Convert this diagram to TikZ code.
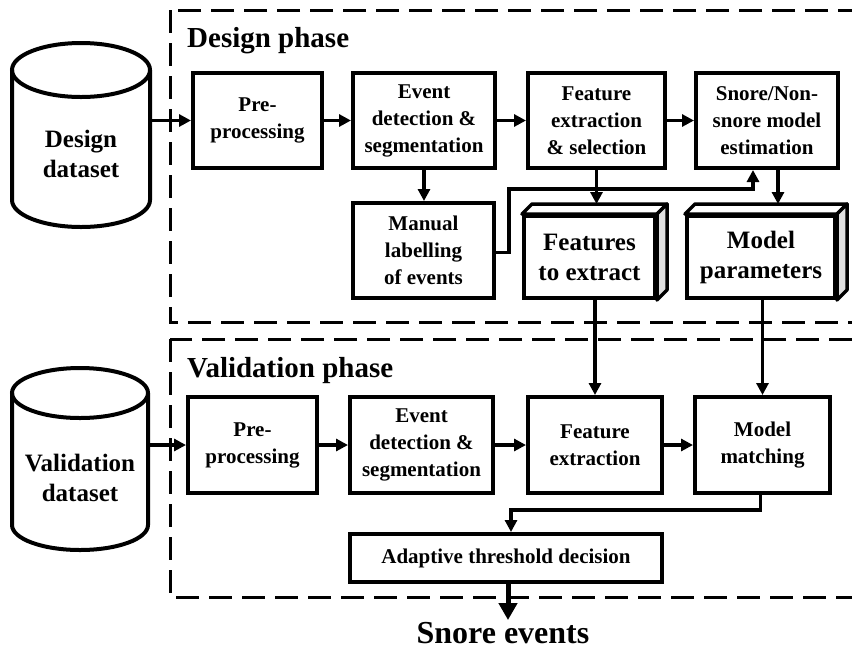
\documentclass[tikz,border=0pt]{standalone}
\usepackage{fontspec}
\setmainfont{Liberation Serif}
\usetikzlibrary{arrows.meta,calc}
\tikzset{
  proc/.style={draw, line width=4pt, inner sep=0pt, align=center, fill=white,
    font=\bfseries\fontsize{21}{27}\selectfont},
  bigbox/.style={draw, line width=4pt, inner sep=0pt, align=center, fill=white,
    font=\bfseries\fontsize{25}{30}\selectfont},
  cyltxt/.style={align=center, inner sep=0pt, font=\bfseries\fontsize{25}{30}\selectfont},
  phasetitle/.style={anchor=west, inner sep=0pt, font=\bfseries\fontsize{29}{34}\selectfont},
  arr/.style={line width=3.2pt, -{Triangle[length=12pt,width=12pt]}},
  bigarr/.style={line width=5pt, -{Triangle[length=17pt,width=18pt]}},
  phasebox/.style={line width=3pt, dash pattern=on 23pt off 10pt},
  cylline/.style={line width=4pt},
  face/.style={line width=3.5pt, line join=round},
}
\begin{document}
\begin{tikzpicture}[x=1pt,y=-1pt]
\useasboundingbox (0,0) rectangle (852,649);
\clip (0,0) rectangle (852,649);

% phase boxes
\draw[phasebox] (170,10) rectangle (880,322);
\draw[phasebox] (170,339) rectangle (880,597);
\node[phasetitle] (dtitle) at (187,41) {Design phase};
\node[phasetitle] (vtitle) at (187,371) {Validation phase};

% design cylinder
\draw[cylline] (12,70) -- (12,200) .. controls (12,214.9) and (42.9,227) .. (81,227)
  .. controls (119.1,227) and (150,214.9) .. (150,200) -- (150,70);
\draw[cylline] (81,70) ellipse [x radius=69, y radius=27];
\node[inner sep=0pt, minimum width=138pt, minimum height=130pt] (dcyl) at (81,135) {};
\node[cyltxt] (dtxt) at (81,154) {Design\\dataset};

% validation cylinder
\draw[cylline] (12,393) -- (12,525) .. controls (12,538.8) and (42.4,550) .. (80,550)
  .. controls (117.6,550) and (148,538.8) .. (148,525) -- (148,393);
\draw[cylline] (80,393) ellipse [x radius=68, y radius=25];
\node[inner sep=0pt, minimum width=136pt, minimum height=132pt] (vcyl) at (80,459) {};
\node[cyltxt] (vtxt) at (80,478) {Validation\\dataset};

% design row
\node[proc, minimum width=129pt, minimum height=95pt] (pre1) at (257.5,120.5) {Pre-\\processing};
\node[proc, minimum width=142pt, minimum height=95pt] (ev1) at (424,120.5) {Event\\detection \&\\segmentation};
\node[proc, minimum width=137pt, minimum height=95pt] (fe1) at (596.5,120.5) {Feature\\extraction\\\& selection};
\node[proc, minimum width=142pt, minimum height=95pt] (sn1) at (767,120.5) {Snore/Non-\\snore model\\estimation};
\node[proc, minimum width=141pt, minimum height=95pt] (man) at (423.5,250.5) {Manual\\labelling\\of events};

% 3D boxes
\node[bigbox, minimum width=131pt, minimum height=82pt] (fte) at (589.5,257) {Features\\to extract};
\draw[face, fill=white] (fte.north west) -- ++(10,-10) -- ($(fte.north east)+(10,-10)$) -- (fte.north east) -- cycle;
\draw[face, fill=gray!25] (fte.north east) -- ++(10,-10) -- ($(fte.south east)+(10,-10)$) -- (fte.south east) -- cycle;
\coordinate (ftetop) at ($(fte.north)+(0,-10)$);

\node[bigbox, minimum width=148pt, minimum height=82pt] (mp) at (761,257) {Model\\parameters};
\draw[face, fill=white] (mp.north west) -- ++(10,-10) -- ($(mp.north east)+(10,-10)$) -- (mp.north east) -- cycle;
\draw[face, fill=gray!25] (mp.north east) -- ++(10,-10) -- ($(mp.south east)+(10,-10)$) -- (mp.south east) -- cycle;
\coordinate (mptop) at ($(mp.north)+(0,-10)$);

% validation row
\node[proc, minimum width=129pt, minimum height=96pt] (pre2) at (252.5,445) {Pre-\\processing};
\node[proc, minimum width=143pt, minimum height=96pt] (ev2) at (421.5,445) {Event\\detection \&\\segmentation};
\node[proc, minimum width=134pt, minimum height=96pt] (fe2) at (595,445) {Feature\\extraction};
\node[proc, minimum width=135pt, minimum height=96pt] (mm) at (762.5,445) {Model\\matching};
\node[proc, minimum width=312pt, minimum height=48pt] (adt) at (506,558) {Adaptive threshold decision};

\node[inner sep=2pt, font=\bfseries\fontsize{32}{36}\selectfont] (se) at (503,633) {Snore events};

% design connectors
\draw[arr] (dcyl.east |- pre1.west) -- (pre1.west);
\draw[arr] (pre1.east) -- (ev1.west);
\draw[arr] (ev1.east) -- (fe1.west);
\draw[arr] (fe1.east) -- (sn1.west);
\draw[arr] (ev1.south) -- (ev1.south |- man.north);
\draw[arr] (fe1.south) -- (fe1.south |- ftetop);
\coordinate (snin) at ($(sn1.south)+(-14,0)$);
\coordinate (snout) at ($(sn1.south)+(11,0)$);
\draw[arr] (snout) -- (snout |- mptop);
\draw[arr] ($(man.east)+(0,2)$) -- ++(13,0) |- ($(snin)+(0,19)$) -- (snin);

% cross-phase connectors
\draw[arr] (fe2.north |- fte.south) -- (fe2.north);
\draw[arr] (mm.north |- mp.south) -- (mm.north);

% validation connectors
\draw[arr] (vcyl.east |- pre2.west) -- (pre2.west);
\draw[arr] (pre2.east) -- (ev2.west);
\draw[arr] (ev2.east) -- (fe2.west);
\draw[arr] (fe2.east) -- (mm.west);
\draw[arr] ($(mm.south)+(-2,0)$) -- ++(0,15) -| ($(adt.north)+(5,0)$);
\draw[bigarr] ($(adt.south)+(2,0)$) -- ($(adt.south |- se.north)+(2,0)$);
\end{tikzpicture}
\end{document}
